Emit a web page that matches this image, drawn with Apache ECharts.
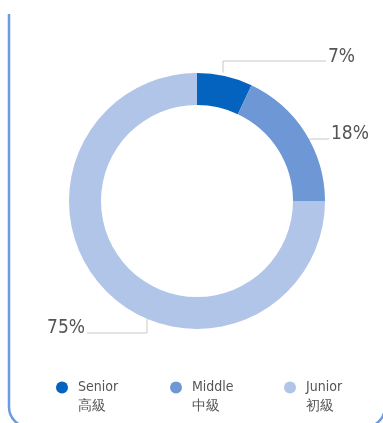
<!DOCTYPE html>
<html>
<head>
<meta charset="utf-8">
<script src="https://cdn.jsdelivr.net/npm/echarts@6/dist/echarts.min.js"></script>
<style>
html,body{margin:0;padding:0;background:#fff;}
#c{width:383px;height:423px;}
</style>
</head>
<body>
<div id="c"></div>
<script>
const categories = ['Senior', 'Middle', 'Junior'];
const categoriesZh = ['高級', '中級', '初級'];
const values = [7, 18, 75];
const colors = ['#0563c0', '#6e98d5', '#b0c5e8'];

const FONT = '"Liberation Sans Narrow", "DejaVu Sans Condensed", "Roboto", sans-serif';
const CX = 197, CY = 201, R_OUT = 128, R_IN = 96;

const chart = echarts.init(document.getElementById('c'));

function edgeYAtX(x, sign) {
  const dx = x - CX;
  return CY + sign * Math.sqrt(R_OUT * R_OUT - dx * dx);
}
function edgeXAtY(y, sign) {
  const dy = y - CY;
  return CX + sign * Math.sqrt(R_OUT * R_OUT - dy * dy);
}

function labelLayout(params) {
  const i = params.dataIndex;
  if (i === 0) {
    const x = 223, y0 = edgeYAtX(x, -1) - 3, yTop = 61, xEnd = 326;
    return { x: xEnd + 2, y: yTop - 4, align: 'left', verticalAlign: 'middle',
      labelLinePoints: [[x, y0], [x, yTop], [xEnd, yTop]] };
  } else if (i === 1) {
    const y = 139, x0 = edgeXAtY(y, 1), xEnd = 329;
    return { x: xEnd + 2, y: y - 5, align: 'left', verticalAlign: 'middle',
      labelLinePoints: [[x0, y], [(x0 + xEnd) / 2, y], [xEnd, y]] };
  } else {
    const x = 147, y0 = edgeYAtX(x, 1), yBot = 333, xEnd = 87;
    return { x: xEnd - 2, y: yBot - 5, align: 'right', verticalAlign: 'middle',
      labelLinePoints: [[x, y0], [x, yBot], [xEnd, yBot]] };
  }
}

chart.setOption({
  animation: false,
  color: colors,
  graphic: [{
    type: 'rect',
    shape: { x: 9, y: -40, width: 376, height: 467, r: 20 },
    style: { stroke: '#6b9be0', lineWidth: 2.5, fill: 'none' },
    silent: true,
    z: 0
  }, {
    type: 'rect',
    shape: { x: 0, y: 0, width: 383, height: 14 },
    style: { fill: '#fff' },
    silent: true,
    z: 1
  }],
  legend: {
    data: categories,
    left: 56,
    top: 359,
    padding: 0,
    itemGap: 27,
    itemWidth: 22,
    itemHeight: 12,
    icon: 'circle',
    formatter: function (name) {
      return '\n' + name + '\n' + categoriesZh[categories.indexOf(name)];
    },
    textStyle: {
      fontFamily: FONT,
      fontSize: 14,
      lineHeight: 19,
      color: '#555',
      width: 65
    }
  },
  series: [{
    type: 'pie',
    center: [CX, CY],
    radius: [R_IN, R_OUT],
    startAngle: 90,
    clockwise: true,
    avoidLabelOverlap: false,
    data: categories.map((c, i) => ({ name: c, value: values[i] })),
    label: {
      show: true,
      formatter: '{c}%',
      fontFamily: FONT,
      fontSize: 19,
      color: '#555'
    },
    labelLine: {
      show: true,
      lineStyle: { color: '#c8c8c8', width: 1 }
    },
    labelLayout: labelLayout,
    emphasis: { disabled: true }
  }]
});
</script>
</body>
</html>
